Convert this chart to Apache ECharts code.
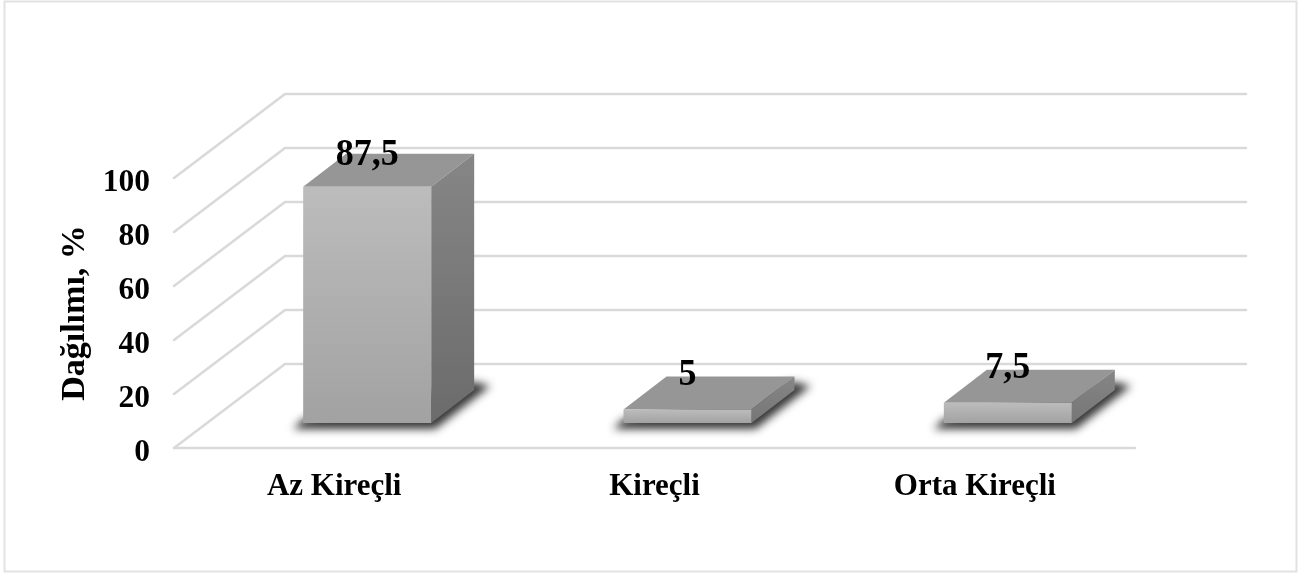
<!DOCTYPE html>
<html><head><meta charset="utf-8">
<style>html,body{margin:0;padding:0;background:#fff}#c{width:1301px;height:574px}</style>
<script src="https://cdn.jsdelivr.net/npm/echarts@6/dist/echarts.min.js"></script>
</head><body><div id="c"></div>
<script>
const categories = ['Az Kireçli', 'Kireçli', 'Orta Kireçli'];
const values = [87.5, 5, 7.5];
const valueLabels = ['87,5', '5', '7,5'];
const yTicks = [0, 20, 40, 60, 80, 100];
const yName = 'Dağılımı, %';
const FONT = '"Liberation Serif", serif';

// 3D projection offsets (pixels)
const wallDX = 111, wallDY = -84;
const barDX = 43, barDY = -33;
const barShiftX = 33, barShiftY = -25;
const barWidth = 128;
const SHADOW_SHIFT = 3000;
const G = echarts.graphic;
const grad = (a, b) => new G.LinearGradient(0, 0, 0, 1, [{offset: 0, color: a}, {offset: 1, color: b}]);
const gridColor = '#d9d9d9';

function renderGrid(params, api) {
  const band = api.size([1, 0])[0];
  const p = api.coord([0, api.value(1)]);
  const lx = p[0] - band / 2, rx = lx + band * 3, y = p[1];
  const children = [{
    type: 'polyline',
    shape: {points: [[lx, y], [lx + wallDX, y + wallDY], [rx + wallDX, y + wallDY]]},
    style: {stroke: gridColor, lineWidth: 2.5, fill: null, lineCap: 'round', lineJoin: 'round'}
  }];
  if (api.value(1) === 0) {
    children.push({
      type: 'line',
      shape: {x1: lx, y1: y, x2: rx, y2: y},
      style: {stroke: gridColor, lineWidth: 2.5, lineCap: 'round'}
    });
  }
  return {type: 'group', children};
}

function renderBar(params, api) {
  const v = api.value(1);
  const top = api.coord([api.value(0), v]);
  const base = api.coord([api.value(0), 0]);
  const cx = top[0] + barShiftX;
  const l = cx - barWidth / 2, r = cx + barWidth / 2;
  const yb = base[1] + barShiftY, yt = top[1] + barShiftY;
  const small = yb - yt < 40;
  const s = SHADOW_SHIFT;
  return {type: 'group', children: [
    {type: 'polygon', z2: 1,
      shape: {points: [[l - 10 - s, yb + 6], [r + 4 - s, yb + 6], [r + barDX + 16 - s, yb + barDY - 4], [r + barDX - s, yb + barDY - 8], [l - s, yb - 4]]},
      style: {fill: '#000', shadowBlur: 9, shadowOffsetX: s, shadowColor: 'rgba(20,20,20,0.85)'}},
    {type: 'polygon', z2: 2,
      shape: {points: [[l, yt], [l + barDX, yt + barDY], [r + barDX, yt + barDY], [r, yt]]},
      style: {fill: '#969696'}},
    {type: 'polygon', z2: 2,
      shape: {points: [[r, yt], [r + barDX, yt + barDY], [r + barDX, yb + barDY], [r, yb]]},
      style: {fill: small ? grad('#868686', '#767676') : grad('#868686', '#6b6b6b')}},
    {type: 'rect', z2: 2,
      shape: {x: l, y: yt, width: barWidth, height: yb - yt},
      style: {fill: grad('#bcbcbc', '#a2a2a2')}},
    {type: 'text', z2: 5, x: cx, y: yt - (small ? 35 : 32), scaleY: 1.08,
      style: {text: valueLabels[api.value(0)], font: 'bold 36px ' + FONT, fill: '#000', align: 'center', verticalAlign: 'middle'}}
  ]};
}

const chart = echarts.init(document.getElementById('c'), null, {renderer: 'canvas'});
chart.setOption({
  animation: false,
  backgroundColor: '#fff',
  grid: {left: 174, right: 166, top: 178, bottom: 126, containLabel: false},
  graphic: [{type: 'rect', silent: true, z: -1,
    shape: {x: 4.5, y: 1.5, width: 1292, height: 570},
    style: {fill: '#fff', stroke: '#e2e2e2', lineWidth: 2}}],
  xAxis: {
    type: 'category', data: categories,
    axisLine: {show: false}, axisTick: {show: false}, splitLine: {show: false},
    axisLabel: {margin: 23, color: '#000', fontFamily: FONT, fontWeight: 'bold', fontSize: 31}
  },
  yAxis: {
    type: 'value', min: 0, max: 100, interval: 20,
    axisLine: {show: false}, axisTick: {show: false}, splitLine: {show: false},
    axisLabel: {margin: 24, color: '#000', fontFamily: FONT, fontWeight: 'bold', fontSize: 31.5, verticalAlign: 'top', lineHeight: 10},
    name: yName, nameLocation: 'middle', nameGap: 77, nameRotate: 90,
    nameTextStyle: {color: '#000', fontFamily: FONT, fontWeight: 'bold', fontSize: 34}
  },
  series: [
    {type: 'custom', z: 1, silent: true, renderItem: renderGrid, encode: {x: 0, y: 1},
      data: yTicks.map(t => [0, t])},
    {type: 'custom', z: 2, silent: true, renderItem: renderBar, encode: {x: 0, y: 1},
      data: values.map((v, i) => [i, v])}
  ]
});
</script></body></html>
